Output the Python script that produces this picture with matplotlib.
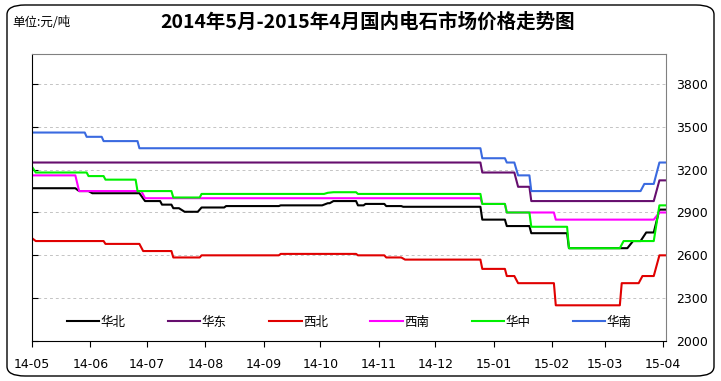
import matplotlib
matplotlib.use("Agg")
import matplotlib.pyplot as plt
import matplotlib.dates as mdates
from matplotlib.patches import FancyBboxPatch
from datetime import datetime

plt.rcParams['font.family'] = ['Noto Sans CJK SC', 'DejaVu Sans']

# price data (date, yuan/ton)
huabei = [("2014-05-01", 3070), ("2014-05-24", 3070), ("2014-05-26", 3050), ("2014-05-31", 3050),
          ("2014-06-02", 3035), ("2014-06-27", 3035), ("2014-06-30", 2980), ("2014-07-08", 2980),
          ("2014-07-09", 2955), ("2014-07-14", 2955), ("2014-07-15", 2930), ("2014-07-18", 2930),
          ("2014-07-21", 2905), ("2014-07-28", 2905), ("2014-07-30", 2935), ("2014-08-11", 2935),
          ("2014-08-12", 2945), ("2014-09-09", 2945), ("2014-09-10", 2950), ("2014-10-02", 2950),
          ("2014-10-05", 2965), ("2014-10-06", 2965), ("2014-10-08", 2980), ("2014-10-20", 2980),
          ("2014-10-21", 2950), ("2014-10-24", 2950), ("2014-10-25", 2960), ("2014-11-04", 2960),
          ("2014-11-05", 2945), ("2014-11-13", 2945), ("2014-11-14", 2940), ("2014-12-25", 2940),
          ("2014-12-26", 2850), ("2015-01-07", 2850), ("2015-01-08", 2805), ("2015-01-20", 2805),
          ("2015-01-21", 2755), ("2015-02-09", 2755), ("2015-02-10", 2650), ("2015-03-13", 2650),
          ("2015-03-16", 2700), ("2015-03-20", 2700), ("2015-03-23", 2760), ("2015-03-27", 2760),
          ("2015-03-30", 2920), ("2015-04-02", 2920)]
huadong = [("2014-05-01", 3250), ("2014-12-25", 3250), ("2014-12-26", 3180), ("2015-01-12", 3180),
           ("2015-01-14", 3080), ("2015-01-20", 3080), ("2015-01-21", 2980), ("2015-03-27", 2980),
           ("2015-03-30", 3125), ("2015-04-02", 3125)]
xibei = [("2014-05-01", 2720), ("2014-05-03", 2700), ("2014-06-08", 2700), ("2014-06-09", 2680),
         ("2014-06-27", 2680), ("2014-06-29", 2630), ("2014-07-14", 2630), ("2014-07-15", 2585),
         ("2014-07-29", 2585), ("2014-07-30", 2600), ("2014-09-09", 2600), ("2014-09-10", 2610),
         ("2014-10-20", 2610), ("2014-10-21", 2600), ("2014-11-04", 2600), ("2014-11-05", 2585),
         ("2014-11-13", 2585), ("2014-11-15", 2570), ("2014-12-25", 2570), ("2014-12-26", 2505),
         ("2015-01-07", 2505), ("2015-01-08", 2455), ("2015-01-12", 2455), ("2015-01-14", 2405),
         ("2015-02-02", 2405), ("2015-02-03", 2250), ("2015-03-09", 2250), ("2015-03-10", 2405),
         ("2015-03-19", 2405), ("2015-03-21", 2455), ("2015-03-27", 2455), ("2015-03-30", 2600),
         ("2015-04-02", 2600)]
xinan = [("2014-05-01", 3160), ("2014-05-24", 3160), ("2014-05-26", 3050), ("2014-06-28", 3050),
         ("2014-06-30", 3000), ("2014-12-25", 3000), ("2014-12-26", 2960), ("2015-01-07", 2960),
         ("2015-01-08", 2900), ("2015-02-02", 2900), ("2015-02-03", 2850), ("2015-03-27", 2850),
         ("2015-03-30", 2900), ("2015-04-02", 2900)]
huazhong = [("2014-05-01", 3220), ("2014-05-03", 3180), ("2014-05-30", 3180), ("2014-05-31", 3155),
            ("2014-06-08", 3155), ("2014-06-09", 3130), ("2014-06-25", 3130), ("2014-06-26", 3050),
            ("2014-07-14", 3050), ("2014-07-15", 3005), ("2014-07-29", 3005), ("2014-07-30", 3030),
            ("2014-10-03", 3030), ("2014-10-05", 3038), ("2014-10-08", 3042), ("2014-10-20", 3042),
            ("2014-10-21", 3030), ("2014-12-25", 3030), ("2014-12-26", 2960), ("2015-01-07", 2960),
            ("2015-01-08", 2900), ("2015-01-20", 2900), ("2015-01-21", 2800), ("2015-02-09", 2800),
            ("2015-02-10", 2650), ("2015-03-09", 2650), ("2015-03-11", 2700), ("2015-03-27", 2700),
            ("2015-03-30", 2950), ("2015-04-02", 2950)]
huanan = [("2014-05-01", 3460), ("2014-05-29", 3460), ("2014-05-30", 3430), ("2014-06-07", 3430),
          ("2014-06-08", 3400), ("2014-06-26", 3400), ("2014-06-27", 3350), ("2014-12-25", 3350),
          ("2014-12-26", 3280), ("2015-01-07", 3280), ("2015-01-08", 3250), ("2015-01-12", 3250),
          ("2015-01-14", 3160), ("2015-01-20", 3160), ("2015-01-21", 3050), ("2015-03-20", 3050),
          ("2015-03-22", 3100), ("2015-03-27", 3100), ("2015-03-30", 3250), ("2015-04-02", 3250)]

names = ["华北", "华东", "西北", "西南", "华中", "华南"]
colors = ["#000000", "#660e6e", "#e00000", "#ff00ff", "#00f000", "#3a6ae0"]
series = [huabei, huadong, xibei, xinan, huazhong, huanan]

month_ticks = ["2014-05-01", "2014-06-01", "2014-07-01", "2014-08-01", "2014-09-01", "2014-10-01",
               "2014-11-01", "2014-12-01", "2015-01-01", "2015-02-01", "2015-03-01", "2015-04-01"]
y_ticks = [2000, 2300, 2600, 2900, 3200, 3500, 3800]

fig = plt.figure(figsize=(7.21, 3.81), dpi=100)
ax = fig.add_axes([32 / 721, 40 / 381, 634 / 721, 287 / 381])

for data, name, c in zip(series, names, colors):
    d = [datetime.strptime(s, "%Y-%m-%d") for s, v in data]
    v = [v for s, v in data]
    ax.plot(d, v, color=c, lw=1.5, label=name)

ax.set_ylim(2000, 4010)
ax.set_xlim(datetime(2014, 5, 1), datetime(2015, 4, 2, 12))
ax.set_yticks(y_ticks)
ax.set_xticks([datetime.strptime(s, "%Y-%m-%d") for s in month_ticks])
ax.xaxis.set_major_formatter(mdates.DateFormatter("%y-%m"))

for y in y_ticks[1:]:
    ax.axhline(y, color="#c4c4c4", lw=0.7, ls=(0, (3, 3)), zorder=0)

ax.tick_params(axis='y', left=True, right=False, direction='in', length=4,
               labelleft=False, labelright=True, pad=7, labelsize=9, color='black')
ax.tick_params(axis='x', direction='out', length=4, pad=8, labelsize=9)
for lab in ax.get_xticklabels() + ax.get_yticklabels():
    lab.set_family('DejaVu Sans')

ax.spines['left'].set_color('black')
ax.spines['bottom'].set_color('black')
ax.spines['top'].set_color('#808080')
ax.spines['right'].set_color('#808080')

ax.legend(loc='center', bbox_to_anchor=(0.5, 0.066), ncol=6, frameon=False,
          handlelength=2.6, handletextpad=0.1, columnspacing=3.4, fontsize=9)

fig.text(368 / 721, 1 - 22 / 381, "2014年5月-2015年4月国内电石市场价格走势图",
         ha='center', va='center', fontsize=14, fontweight='bold')
fig.text(12 / 721, 1 - 22 / 381, "单位:元/吨", ha='left', va='center', fontsize=9)

border = FancyBboxPatch((7 / 721, 5 / 381), 707 / 721, 371 / 381,
                        boxstyle="round,pad=0,rounding_size=0.025",
                        transform=fig.transFigure, fill=False, ec='black', lw=1)
fig.patches.append(border)

fig.savefig("out.png", dpi=100)
